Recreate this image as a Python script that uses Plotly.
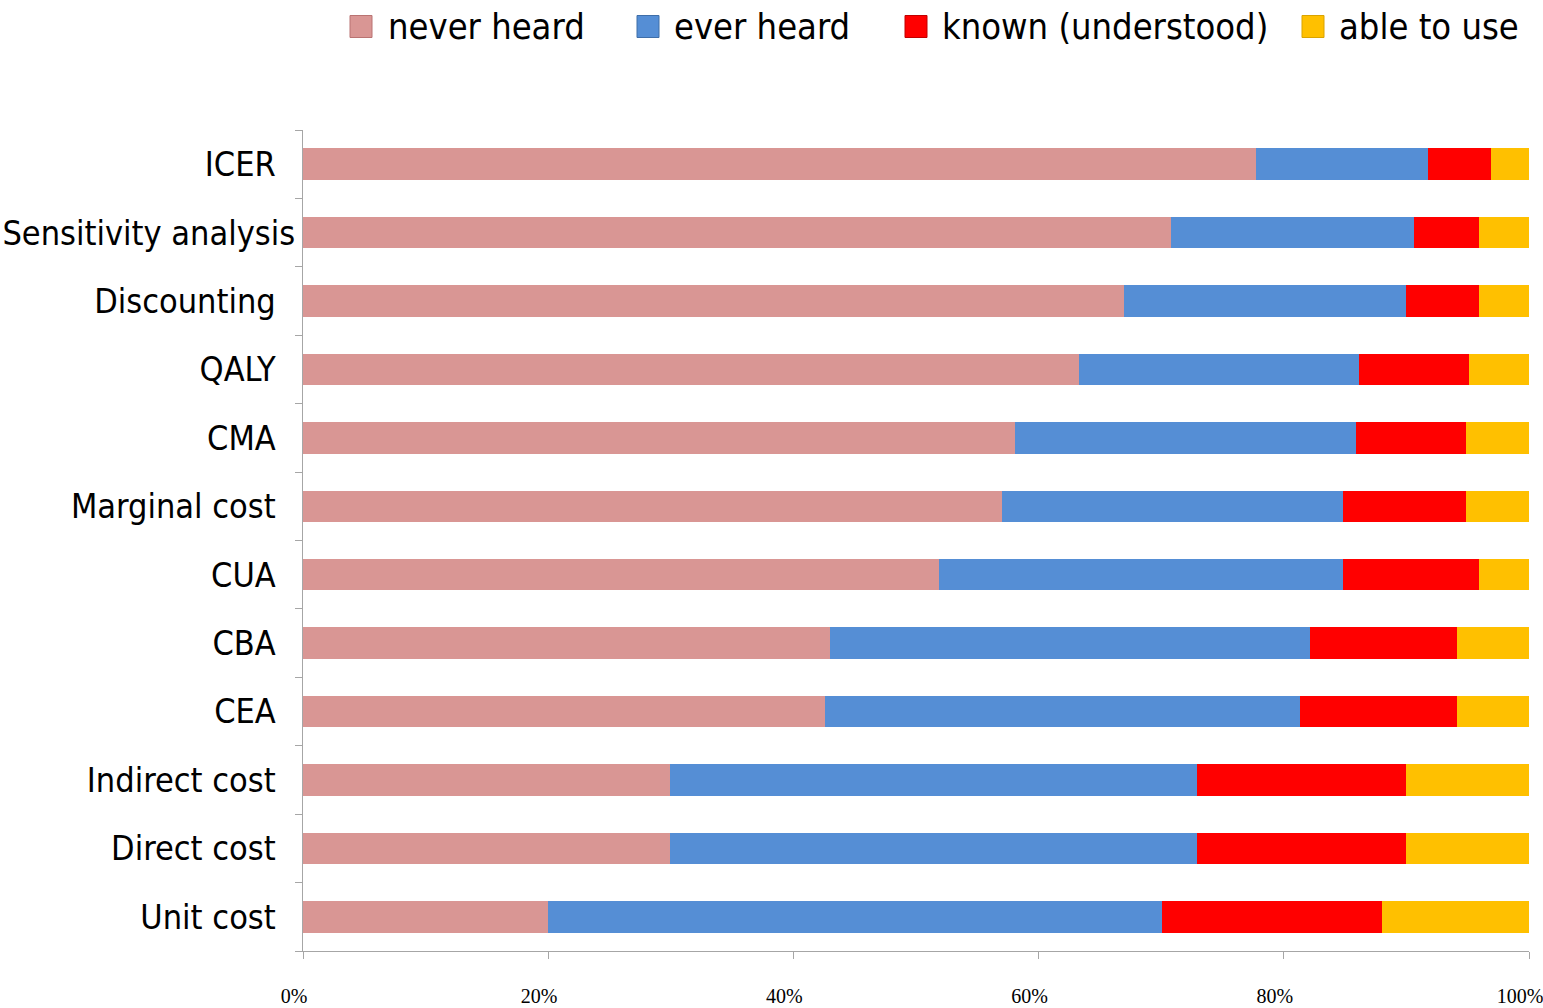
import plotly.graph_objects as go

# Awareness of health-economics terms, percent of respondents (top to bottom)
terms = ["ICER", "Sensitivity analysis", "Discounting", "QALY", "CMA",
         "Marginal cost", "CUA", "CBA", "CEA", "Indirect cost",
         "Direct cost", "Unit cost"]

never_heard = [77.7, 70.8, 67.0, 63.3, 58.1, 57.0, 51.9, 43.0, 42.6, 29.9, 29.9, 20.0]
ever_heard = [14.1, 19.8, 23.0, 22.8, 27.8, 27.8, 32.9, 39.1, 38.7, 43.0, 43.0, 50.1]
known = [5.1, 5.3, 5.9, 9.0, 9.0, 10.1, 11.1, 12.0, 12.8, 17.1, 17.1, 17.9]
able_to_use = [3.1, 4.1, 4.1, 4.9, 5.1, 5.1, 4.1, 5.9, 5.9, 10.0, 10.0, 12.0]

series_names = ["never heard", "ever heard", "known (understood)", "able to use"]
series_values = [never_heard, ever_heard, known, able_to_use]
series_colors = ["#D99694", "#558ED5", "#FF0000", "#FFC000"]
legend_edge_colors = ["#B97372", "#3F6EA8", "#C00000", "#D9A300"]

x_ticks = [0, 20, 40, 60, 80, 100]
x_tick_labels = [f"{v}%" for v in x_ticks]

W, H = 1543, 1008
ML, MR, MT, MB = 303, 14, 130, 57
PW, PH = W - ML - MR, H - MT - MB

fig = go.Figure()
for name, vals, col in zip(series_names, series_values, series_colors):
    fig.add_trace(go.Bar(
        y=terms, x=vals, name=name, orientation="h",
        marker=dict(color=col, line=dict(width=0)),
        width=0.46, showlegend=False,
    ))

# Labels sit right-aligned; the longest one is allowed to run closer to the axis
pad = "\u00a0\u00a0"
y_text = [t if t == "Sensitivity analysis" else t + pad for t in terms]

label_font = dict(family="DejaVu Sans Condensed, DejaVu Sans, sans-serif", size=34, color="#000000")

fig.update_layout(
    width=W, height=H,
    margin=dict(l=ML, r=MR, t=MT, b=MB, pad=0, autoexpand=False),
    paper_bgcolor="white", plot_bgcolor="white",
    barmode="stack",
    showlegend=False,
    xaxis=dict(
        range=[0, 100], tickvals=x_ticks, ticktext=x_tick_labels,
        automargin=False,
        showgrid=False, zeroline=False,
        showline=True, linecolor="#A6A6A6", linewidth=1,
        ticks="outside", ticklen=7, tickcolor="#A6A6A6", tickwidth=1,
        tickfont=dict(family="Liberation Serif, Times New Roman, serif", size=20, color="#000000"),
        ticklabelstandoff=20, ticklabelshift=-9, ticklabeloverflow="allow",
    ),
    yaxis=dict(
        categoryorder="array", categoryarray=terms,
        tickmode="array", tickvals=terms, ticktext=y_text,
        range=[11.5, -0.5], automargin=False,
        showgrid=False, zeroline=False,
        showline=True, linecolor="#A6A6A6", linewidth=1,
        ticks="outside", ticklen=7, tickcolor="#A6A6A6", tickwidth=1,
        tickson="boundaries",
        tickfont=label_font,
    ),
)

# Legend row across the top
square_px = [350, 637, 905, 1302]
text_px = [386, 672, 940, 1337]
legend_y_px = 26.5
half = 11


def px_x(p):
    return (p - ML) / PW


def px_y(p):
    return (H - MB - p) / PH


for name, col, edge, sx, tx in zip(series_names, series_colors, legend_edge_colors, square_px, text_px):
    fig.add_shape(
        type="rect", xref="paper", yref="paper",
        x0=px_x(sx), x1=px_x(sx + 2 * half),
        y0=px_y(legend_y_px + half), y1=px_y(legend_y_px - half),
        fillcolor=col, line=dict(color=edge, width=1),
    )
    fig.add_annotation(
        xref="paper", yref="paper", x=px_x(tx), y=px_y(legend_y_px),
        xanchor="left", yanchor="middle", showarrow=False,
        text=name, font=dict(family="DejaVu Sans Condensed, DejaVu Sans, sans-serif", size=36, color="#000000"),
    )

fig.write_html("out.html")
